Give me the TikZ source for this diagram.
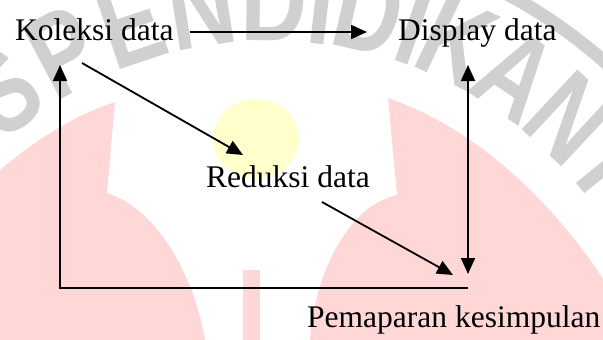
\documentclass[tikz,border=0pt]{standalone}
\usepackage{fontspec}
\setmainfont{Liberation Serif}
\newfontfamily\wmfont{Liberation Sans}
\usetikzlibrary{arrows.meta}
\definecolor{wmpink}{RGB}{255,215,215}
\definecolor{wmyellow}{RGB}{255,255,204}
\definecolor{wmgray}{RGB}{208,208,208}
\tikzset{
  lbl/.style={anchor=base west, inner sep=0pt, font=\fontsize{31.5}{36}\selectfont},
  arr/.style={line width=1.8pt, -{Triangle[length=16pt,width=14pt]}},
  dblarr/.style={line width=1.8pt, {Triangle[length=16pt,width=14pt]}-{Triangle[length=16pt,width=14pt]}},
  wmletter/.style={text=wmgray, font=\wmfont\bfseries\fontsize{88}{90}\selectfont, inner sep=0pt},
}
\begin{document}
\begin{tikzpicture}[x=1pt,y=-1pt]
\useasboundingbox (0,0) rectangle (603,340);
% watermark
\begin{scope}
  \clip (0,0) rectangle (603,340);
  \fill[wmpink] (0,170) .. controls (35,140) and (75,115) .. (115,102) -- (107,193)
     .. controls (160,210) and (195,280) .. (205,340) -- (0,340) -- cycle;
  \fill[wmpink] (388,98) .. controls (480,130) and (570,210) .. (640,340) -- (310,340)
     .. controls (315,270) and (350,205) .. (397,195) -- cycle;
  \fill[wmpink] (243,270) rectangle (260,340);
  \fill[wmyellow] (256,139) ellipse [x radius=43, y radius=40];
  \foreach \l/\a [count=\i] in {S/-37.5,P/-28,E/-18.5,N/-9,D/0.5,I/6.8,D/13,I/19.2,K/25.2,A/34,N/43,I/51}
    \node[wmletter, rotate=-\a] (wm\i) at ({270+440*sin(\a)},{440-440*cos(\a)}) {\scalebox{1.05}[1.35]{\l}};
  \draw[wmgray, line width=13pt] plot[domain=25:70, samples=40] ({270+505*sin(\x)},{440-505*cos(\x)});
\end{scope}
% diagram
\node[lbl] (kol) at (15,40) {Koleksi data};
\node[lbl] (dis) at (398,40) {Display data};
\node[lbl] (red) at (206,187) {Reduksi data};
\node[lbl] (pem) at (307,327) {Pemaparan kesimpulan};
\coordinate (kolR) at (190,32);
\coordinate (disL) at (367,32);
\coordinate (kolB) at (82,63);
\coordinate (redT) at (243,155);
\coordinate (redB) at (322,202);
\coordinate (pemT) at (453,275);
\coordinate (disB) at (468,65);
\coordinate (pemR) at (468,274);
\coordinate (pemB) at (468,288);
\coordinate (corner) at (60,288);
\coordinate (kolL) at (60,65);
\draw[arr] (kolR) -- (disL);
\draw[arr] (kolB) -- (redT);
\draw[arr] (redB) -- (pemT);
\draw[dblarr] (disB) -- (pemR);
\draw[arr] (pemB) -- (corner) -- (kolL);
\end{tikzpicture}
\end{document}
